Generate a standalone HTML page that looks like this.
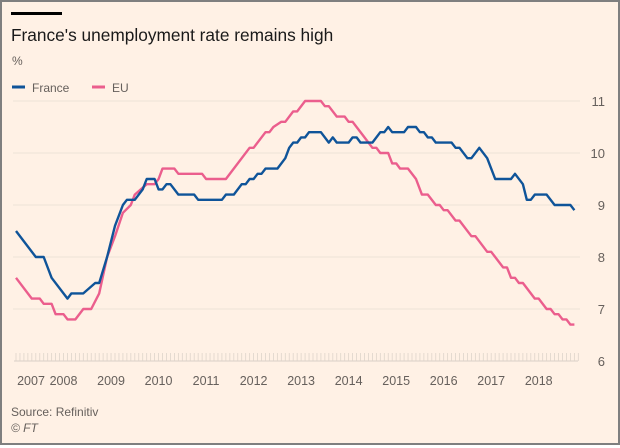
<!DOCTYPE html>
<html><head><meta charset="utf-8">
<style>
html,body{margin:0;padding:0;}
body{width:620px;height:445px;overflow:hidden;font-family:"Liberation Sans",sans-serif;}
#frame{position:absolute;left:0;top:0;width:616px;height:441px;border:2px solid #7f7f7f;background:#fff1e5;}
</style></head>
<body>
<div id="frame">
<svg id="chart" width="616" height="441" viewBox="2 2 616 441" xmlns="http://www.w3.org/2000/svg">
  <rect x="11" y="12" width="51" height="3" fill="#000"/>
  <text x="11" y="41" font-size="17.3" fill="#1a1a1a">France's unemployment rate remains high</text>
  <text x="12" y="65" font-size="12" fill="#66605c">%</text>
  <g>
    <line x1="12" y1="87" x2="25" y2="87" stroke="#0f5499" stroke-width="3"/>
    <text x="32" y="92" font-size="12" fill="#66605c">France</text>
  </g>
  <g>
    <line x1="92" y1="87" x2="105" y2="87" stroke="#eb5e8d" stroke-width="3"/>
    <text x="112" y="92" font-size="12" fill="#66605c">EU</text>
  </g>
  <g id="grid"></g>
  <g id="xaxis"></g>
  <g id="series"></g>
</svg>
</div>
<script>
const yTicks = [6, 7, 8, 9, 10, 11];
const yearLabels = ["2007","2008","2009","2010","2011","2012","2013","2014","2015","2016","2017","2018"];
const franceMonths = [0,5,7,9,13,14,17,20,21,23,25,27,28,30,32,33,35,36,37,38,39,41,45,46,52,53,55,57,58,59,60,61,62,63,66,68,69,70,71,72,73,74,77,79,80,81,84,85,86,87,90,92,93,94,95,98,99,101,102,103,104,105,106,110,111,112,114,115,117,119,121,125,126,128,129,130,131,134,136,140,141];
const franceValues = [8.5,8.0,8.0,7.6,7.2,7.3,7.3,7.5,7.5,8.0,8.6,9.0,9.1,9.1,9.3,9.5,9.5,9.3,9.3,9.4,9.4,9.2,9.2,9.1,9.1,9.2,9.2,9.4,9.4,9.5,9.5,9.6,9.6,9.7,9.7,9.9,10.1,10.2,10.2,10.3,10.3,10.4,10.4,10.2,10.3,10.2,10.2,10.3,10.3,10.2,10.2,10.4,10.4,10.5,10.4,10.4,10.5,10.5,10.4,10.4,10.3,10.3,10.2,10.2,10.1,10.1,9.9,9.9,10.1,9.9,9.5,9.5,9.6,9.4,9.1,9.1,9.2,9.2,9.0,9.0,8.9];
const euMonths = [0,4,6,7,9,10,12,13,15,17,19,21,23,25,27,29,30,33,35,36,37,40,41,47,48,53,59,60,63,64,65,67,68,70,71,73,74,77,78,79,81,83,84,85,88,90,91,92,94,95,96,97,99,101,102.5,104,106,107,108,109,111,112,115,116,119,120,123,124,125,126,127,128,131,132,134,135,136,137,138,139,140,141];
const euValues = [7.6,7.2,7.2,7.1,7.1,6.9,6.9,6.8,6.8,7.0,7.0,7.3,8.0,8.4,8.85,9.0,9.2,9.4,9.4,9.5,9.7,9.7,9.6,9.6,9.5,9.5,10.1,10.1,10.4,10.4,10.5,10.6,10.6,10.8,10.8,11.0,11.0,11.0,10.9,10.9,10.7,10.7,10.6,10.6,10.3,10.1,10.1,10.0,10.0,9.8,9.8,9.7,9.7,9.5,9.2,9.2,9.0,9.0,8.9,8.9,8.7,8.7,8.4,8.4,8.1,8.1,7.8,7.8,7.6,7.6,7.5,7.5,7.2,7.2,7.0,7.0,6.9,6.9,6.8,6.8,6.7,6.7];

const NS = "http://www.w3.org/2000/svg";
const x = m => 16 + m * 3.96;
const y = v => 361 - (v - 6) * 52;
function mk(tag, attrs, parent){const e=document.createElementNS(NS,tag);for(const k in attrs)e.setAttribute(k,attrs[k]);parent.appendChild(e);return e;}

const grid = document.getElementById("grid");
yTicks.forEach(t => {
  if (t > 6) {
    const l = mk("line",{x1:13,x2:580,y1:y(t),y2:y(t),stroke:"#ece2d8","stroke-width":1},grid);
    
    
  }
  const tx = mk("text",{x:605,y:y(t)+5,"font-size":13,fill:"#66605c","text-anchor":"end"},grid);
  tx.textContent = t;
  
  
});

const xa = document.getElementById("xaxis");
const base = mk("line",{x1:14,x2:578,y1:361,y2:361,stroke:"#d9cfc6","stroke-width":1},xa);


for (let m = 0; m <= 142; m++) {
  const t = mk("line",{x1:x(m),x2:x(m),y1:353,y2:361,stroke:"#ded4ca","stroke-width":0.8},xa);
  
  
}
yearLabels.forEach((lab,i) => {
  let cx = x(i*12);
  if (i === 0) cx = 31;
  const t = mk("text",{x:cx,y:385,"font-size":12.5,fill:"#66605c","text-anchor":"middle"},xa);
  t.textContent = lab;
  
  
});

const ser = document.getElementById("series");
function line(ms, vs, color, name){
  const pts = ms.map((m,i)=>x(m).toFixed(1)+","+y(vs[i]).toFixed(1)).join(" ");
  const p = mk("polyline",{points:pts,fill:"none",stroke:color,"stroke-width":2.4,"stroke-linejoin":"round"},ser);
  
  
}
line(euMonths, euValues, "#eb5e8d", "eu-line");
line(franceMonths, franceValues, "#0f5499", "france-line");

const s = mk("text",{x:11,y:416,"font-size":12,fill:"#66605c"},document.getElementById("chart"));
s.textContent = "Source: Refinitiv";


const c = mk("text",{x:11,y:432,"font-size":12,fill:"#66605c","font-style":"italic"},document.getElementById("chart"));
c.textContent = "© FT";


</script>
</body></html>
